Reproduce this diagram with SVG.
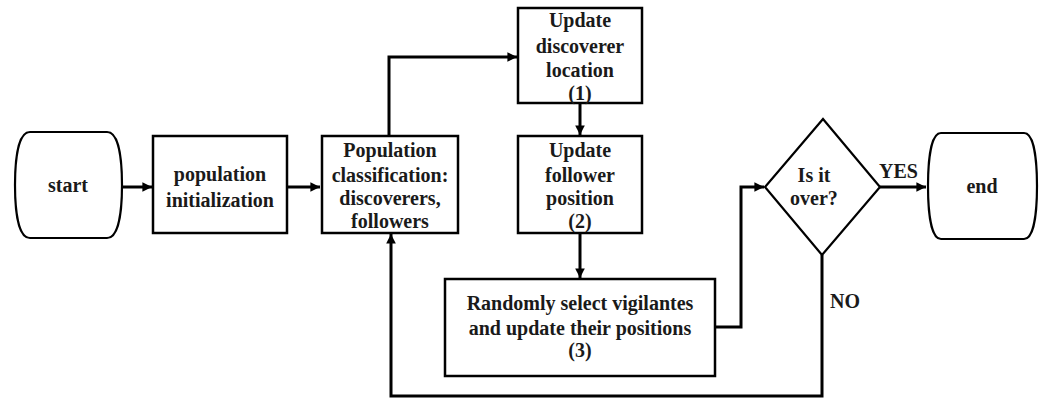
<svg xmlns="http://www.w3.org/2000/svg" width="1042" height="399" viewBox="0 0 1042 399">
<defs>
<style>
.box{fill:#fff;stroke:#000;stroke-width:2.5}
.term{fill:#fff;stroke:#000;stroke-width:2.2}
.dia{fill:#fff;stroke:#000;stroke-width:2.2}
.conn{fill:none;stroke:#000;stroke-width:3}
.t{font-weight:bold;font-size:20px;fill:#1a1a1a;text-anchor:middle}
.lbl{font-weight:bold;font-size:20px;fill:#1a1a1a}
</style>
<marker id="arr" viewBox="0 0 10 10" refX="10" refY="5" markerWidth="4" markerHeight="3.2" markerUnits="strokeWidth" orient="auto">
<path d="M0,0 L10,5 L0,10 Z" fill="#000"/>
</marker>
</defs>
<rect width="1042" height="399" fill="#fff"/>
<g id="connectors">
<path class="conn" d="M122,187 H152" marker-end="url(#arr)"/>
<path class="conn" d="M287,187 H320" marker-end="url(#arr)"/>
<path class="conn" d="M389,136 V57 H517" marker-end="url(#arr)"/>
<path class="conn" d="M580,103 V135" marker-end="url(#arr)"/>
<path class="conn" d="M580,233 V278" marker-end="url(#arr)"/>
<path class="conn" d="M715,327 H741 V187 H764" marker-end="url(#arr)"/>
<path class="conn" d="M880,187 H926" marker-end="url(#arr)"/>
<path class="conn" d="M822,255 V396 H391 V234" marker-end="url(#arr)"/>
</g>
<g font-family="Liberation Serif, Times New Roman, serif">
<g id="start">
<path class="term" d="M30,132 H107 C119,132 122,160 122,185 C122,210 119,238 107,238 H30 C18,238 15,210 15,185 C15,160 18,132 30,132 Z"/>
<text class="t" x="68" y="192">start</text>
</g>
<g id="init">
<rect class="box" x="153" y="136" width="134" height="97"/>
<text class="t" x="220" y="181">population</text>
<text class="t" x="220" y="207">initialization</text>
</g>
<g id="classify">
<rect class="box" x="322" y="136" width="136" height="97"/>
<text class="t" x="390" y="157">Population</text>
<text class="t" x="390" y="182">classification:</text>
<text class="t" x="390" y="205">discoverers,</text>
<text class="t" x="390" y="228">followers</text>
</g>
<g id="discoverer">
<rect class="box" x="518" y="8" width="124" height="95"/>
<text class="t" x="580" y="27">Update</text>
<text class="t" x="580" y="53">discoverer</text>
<text class="t" x="580" y="77">location</text>
<text class="t" x="580" y="100">(1)</text>
</g>
<g id="follower">
<rect class="box" x="518" y="136" width="124" height="97"/>
<text class="t" x="580" y="157">Update</text>
<text class="t" x="580" y="182">follower</text>
<text class="t" x="580" y="205">position</text>
<text class="t" x="580" y="228">(2)</text>
</g>
<g id="vigilantes">
<rect class="box" x="445" y="279" width="270" height="97"/>
<text class="t" x="580" y="310">Randomly select vigilantes</text>
<text class="t" x="580" y="335">and update their positions</text>
<text class="t" x="580" y="357">(3)</text>
</g>
<g id="decision">
<polygon class="dia" points="823,119 880,187 822,255 765,187"/>
<text class="t" x="814" y="182">Is it</text>
<text class="t" x="814" y="205">over?</text>
</g>
<g id="end">
<path class="term" d="M941,133 H1024 C1034,133 1037,160 1037,186 C1037,212 1034,239 1024,239 H941 C931,239 928,212 928,186 C928,160 931,133 941,133 Z"/>
<text class="t" x="982" y="193">end</text>
</g>
<g id="labels">
<text class="lbl" x="879" y="178">YES</text>
<text class="lbl" x="830" y="308">NO</text>
</g>
</g>
</svg>
